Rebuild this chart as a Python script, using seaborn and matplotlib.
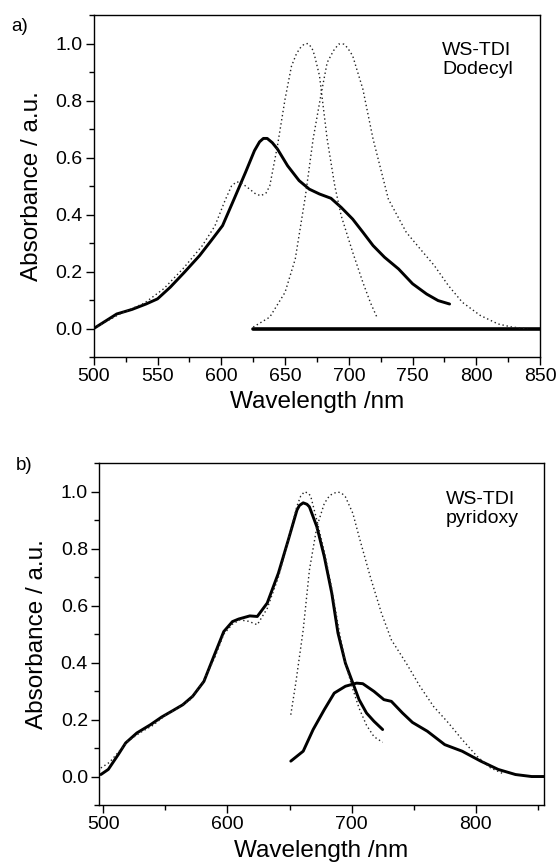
import numpy as np
import pandas as pd
import matplotlib
matplotlib.use("Agg")
import matplotlib.pyplot as plt
import seaborn as sns
from matplotlib.ticker import MultipleLocator, FormatStrFormatter

# ---- panel a) WS-TDI Dodecyl ----
a_abs_nm = [500, 518, 530, 541, 550, 560, 571, 583, 592, 601, 610, 619, 626, 630,
            633, 636, 640, 644, 652, 661, 669, 677, 686, 694, 703, 711, 719, 728,
            739, 750, 761, 770, 779]
a_abs = [0.0, 0.051, 0.067, 0.086, 0.104, 0.145, 0.197, 0.256, 0.308, 0.361, 0.454,
         0.548, 0.624, 0.655, 0.667, 0.667, 0.652, 0.63, 0.571, 0.519, 0.489, 0.472,
         0.457, 0.425, 0.384, 0.338, 0.291, 0.25, 0.209, 0.157, 0.121, 0.098, 0.086]

a_absn_nm = [500, 520, 540, 555, 570, 585, 595, 603, 608, 612, 616, 622, 627, 631,
             635, 638, 644, 650, 655, 659, 662, 665, 668, 671, 673, 677, 683, 689,
             694, 703, 711, 717, 722]
a_absn = [0.0, 0.05, 0.09, 0.14, 0.21, 0.29, 0.36, 0.45, 0.50, 0.515, 0.51, 0.49,
          0.472, 0.466, 0.475, 0.50, 0.64, 0.805, 0.92, 0.965, 0.985, 0.998, 1.0,
          0.985, 0.96, 0.887, 0.665, 0.50, 0.396, 0.268, 0.162, 0.09, 0.04]

a_emn_nm = [625, 638, 650, 658, 666, 672, 678, 683, 688, 692, 696, 699, 703, 711,
            719, 731, 745, 756, 767, 778, 789, 803, 817, 828, 840]
a_emn = [0.005, 0.04, 0.127, 0.244, 0.466, 0.665, 0.816, 0.933, 0.975, 0.998, 0.998,
         0.985, 0.957, 0.84, 0.665, 0.454, 0.338, 0.279, 0.221, 0.151, 0.092, 0.046,
         0.016, 0.005, 0.0]

a_em_nm = [625, 850]
a_em = [0.0, 0.0]

# ---- panel b) WS-TDI pyridoxy ----
b_abs_nm = [498, 504, 512, 518, 527, 538, 547, 555, 564, 572, 581, 589, 597, 604,
            609, 618, 624, 632, 641, 649, 656, 658, 661, 664, 666, 672, 678, 684,
            689, 695, 701, 706, 712, 718, 725]
b_abs = [0.007, 0.025, 0.077, 0.118, 0.153, 0.182, 0.209, 0.229, 0.252, 0.282, 0.334,
         0.422, 0.509, 0.544, 0.553, 0.564, 0.562, 0.609, 0.714, 0.831, 0.936, 0.952,
         0.961, 0.956, 0.947, 0.877, 0.772, 0.644, 0.504, 0.398, 0.328, 0.27, 0.223,
         0.194, 0.165]

b_absn_nm = [498, 505, 512, 520, 530, 540, 550, 560, 570, 580, 590, 597, 604, 610,
             617, 624, 632, 641, 649, 656, 659, 662, 665, 667, 672, 678, 684, 690,
             695, 700, 706, 712, 718, 725]
b_absn = [0.03, 0.05, 0.085, 0.125, 0.155, 0.18, 0.215, 0.24, 0.27, 0.33, 0.42, 0.50,
          0.535, 0.55, 0.545, 0.533, 0.59, 0.70, 0.83, 0.95, 0.985, 1.0, 0.995, 0.985,
          0.90, 0.79, 0.66, 0.51, 0.40, 0.32, 0.24, 0.18, 0.14, 0.12]

b_emn_nm = [651, 655, 661, 666, 672, 678, 682, 685, 689, 692, 695, 701, 706, 715,
            724, 732, 744, 755, 766, 778, 789, 801, 812, 822]
b_emn = [0.217, 0.328, 0.515, 0.725, 0.877, 0.959, 0.985, 0.994, 0.999, 0.995, 0.982,
         0.924, 0.842, 0.702, 0.574, 0.48, 0.398, 0.317, 0.246, 0.188, 0.13, 0.071,
         0.03, 0.01]

b_em_nm = [651, 661, 669, 678, 686, 695, 704, 709, 718, 726, 732, 741, 749, 761,
           775, 789, 804, 818, 832, 845, 855]
b_em = [0.054, 0.089, 0.165, 0.235, 0.293, 0.317, 0.328, 0.326, 0.299, 0.27, 0.264,
        0.223, 0.19, 0.159, 0.112, 0.089, 0.054, 0.025, 0.007, 0.0, 0.0]

sns.set_style("ticks")
plt.rcParams['font.family'] = ['Liberation Sans', 'DejaVu Sans']
plt.rcParams['text.color'] = 'black'
plt.rcParams['axes.labelcolor'] = 'black'
plt.rcParams['xtick.color'] = 'black'
plt.rcParams['ytick.color'] = 'black'

fig = plt.figure(figsize=(5.58, 8.63), dpi=100)

dots = (0, (1, 2))


def draw_panel(ax, solid, dotted, xlim, major, minor, label_text, tag, tag_xy, xpad):
    for x, y, lw in solid:
        sns.lineplot(x=x, y=y, ax=ax, color='black', lw=lw, sort=False)
    for x, y in dotted:
        sns.lineplot(x=x, y=y, ax=ax, color='#222222', lw=1.0, linestyle=dots, sort=False)
    ax.set_xlim(*xlim)
    ax.set_ylim(-0.1, 1.1)
    ax.xaxis.set_major_locator(MultipleLocator(major))
    ax.xaxis.set_minor_locator(MultipleLocator(minor))
    ax.yaxis.set_major_locator(MultipleLocator(0.2))
    ax.yaxis.set_minor_locator(MultipleLocator(0.1))
    ax.yaxis.set_major_formatter(FormatStrFormatter('%.1f'))
    ax.tick_params(which='major', direction='out', length=6, width=1.0, labelsize=14, pad=2)
    ax.tick_params(which='minor', direction='out', length=3.5, width=1.0)
    for s in ax.spines.values():
        s.set_linewidth(1.0)
        s.set_color('black')
    ax.set_xlabel('Wavelength /nm', fontsize=17.5, labelpad=xpad)
    ax.set_ylabel('Absorbance / a.u.', fontsize=17.5, labelpad=9)
    ax.text(0.78, 0.92, label_text, transform=ax.transAxes, fontsize=14,
            ha='left', va='top', linespacing=1.15)
    fig.text(tag_xy[0], tag_xy[1], tag, fontsize=13.5, ha='left', va='top')


ax1 = fig.add_axes([0.168, 0.5863, 0.800, 0.3963])
draw_panel(ax1,
           [(a_abs_nm, a_abs, 2.1), (a_em_nm, a_em, 2.6)],
           [(a_absn_nm, a_absn), (a_emn_nm, a_emn)],
           (500, 850), 50, 25, 'WS-TDI\nDodecyl', 'a)', (0.02, 0.979), 4)

ax2 = fig.add_axes([0.1774, 0.0672, 0.7976, 0.396])
draw_panel(ax2,
           [(b_abs_nm, b_abs, 2.1), (b_em_nm, b_em, 2.1)],
           [(b_absn_nm, b_absn), (b_emn_nm, b_emn)],
           (496.5, 855), 100, 50, 'WS-TDI\npyridoxy', 'b)', (0.028, 0.471), 5)

fig.savefig('out.png', dpi=100)
